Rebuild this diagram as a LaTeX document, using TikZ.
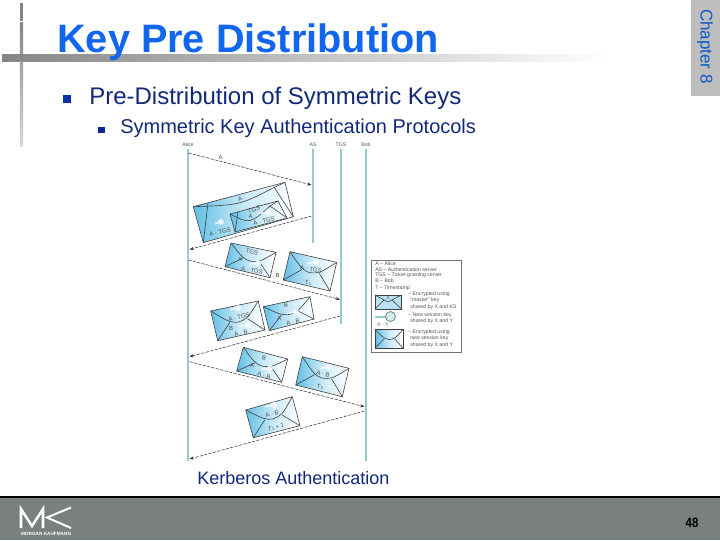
\documentclass[tikz,border=0pt]{standalone}
\usepackage{fontspec}
\setmainfont{Liberation Sans}
\usetikzlibrary{calc,arrows.meta}
\definecolor{titleblue}{HTML}{1166EE}
\definecolor{bodynavy}{HTML}{12297A}
\definecolor{bullblue}{HTML}{0A2FA8}
\definecolor{barcol}{HTML}{858585}
\definecolor{tabgrey}{HTML}{BEBEBE}
\definecolor{footgrey}{HTML}{7A807B}
\definecolor{life}{HTML}{93CBD0}
\definecolor{envblue}{HTML}{62BFE6}
\definecolor{tiny}{HTML}{555555}
\newcommand{\px}[1]{\fontsize{\the\dimexpr#1pt*3/4\relax}{\the\dimexpr#1pt*3/4\relax}\selectfont}
\newcommand{\tee}{\textit{T}\raisebox{-0.5pt}{\px{4.2}1}}
\newcommand{\envbody}[4]{%
  \coordinate (TL) at (#1); \coordinate (TR) at (#2); \coordinate (BR) at (#3); \coordinate (BL) at (#4);
  \path[left color=envblue,right color=white,middle color=envblue!35] (TL) -- (TR) -- (BR) -- (BL) -- cycle;
  \draw[envline] (TL) -- (TR) -- (BR) -- (BL) -- cycle;
}
\newcommand{\envl}[4]{%
  \envbody{#1}{#2}{#3}{#4}
  \coordinate (TM) at ($(TL)!.5!(TR)$); \coordinate (BM) at ($(BL)!.5!(BR)$);
  \coordinate (LM) at ($(TL)!.5!(BL)$); \coordinate (RM) at ($(TR)!.5!(BR)$);
  \coordinate (FL) at ($(LM)!.33!(RM)$); \coordinate (FR) at ($(LM)!.70!(RM)$);
  \coordinate (FC) at ($(TM)!.55!(BM)$);
  \draw[envline] (TL) .. controls (FL) .. (FC) .. controls (FR) .. (TR);
  \draw[envline] (BL) -- (FL);
  \draw[envline] (BR) -- (FR);
}
\newcommand{\keymark}[2]{%
  \fill[white,opacity=.75] (#1) circle (3);
  \draw[white,opacity=.75,line width=1.2] (#1) -- ++(#2,1.5);
}
\tikzset{
  x=0.75pt,y=-0.75pt,
  envline/.style={draw=black!75,line width=0.45pt},
  lifeline/.style={draw=life,line width=1.35pt},
  msg/.style={draw=black!80,line width=0.4pt,dash pattern=on 2.4pt off 1pt,-{Stealth[length=3.2pt,width=2.4pt]}},
  tinylabel/.style={text=tiny,font=\px{5.2},inner sep=0pt},
  envlabel/.style={text=black!70,font=\px{6},inner sep=0pt},
  legtext/.style={text=tiny,font=\px{5.2},inner sep=0pt,anchor=west},
  body/.style={inner sep=0pt,anchor=base west}
}
\begin{document}
\begin{tikzpicture}
\useasboundingbox (0,0) rectangle (720,540);
\fill[white] (0,0) rectangle (720,540);
% decoration bars
\shade[left color=barcol,right color=white] (2,54) rectangle (610,61);
\fill[barcol] (19.8,3) rectangle (23.2,21);
\shade[top color=barcol,bottom color=black!15] (19.8,22) rectangle (23.2,146);
\fill[barcol] (19.8,54) rectangle (23.2,61);
% chapter tab
\fill[tabgrey] (691,0) rectangle (720,96);
\node[rotate=-90,text=titleblue!85!black,font=\px{17},inner sep=0pt] (chap) at (705,46.5) {Chapter 8};
% title
\node[body,text=titleblue,font=\bfseries\px{39.7}] (title) at (57,52) {Key Pre Distribution};
% bullets
\fill[bullblue] (62.5,94.5) rectangle (71,102.5);
\node[body,text=bodynavy,font=\px{24}] (b1) at (89,104) {Pre-Distribution of Symmetric Keys};
\fill[bullblue!85!black] (98,127) rectangle (105,133);
\node[body,text=bodynavy,font=\px{20}] (b2) at (120,133) {Symmetric Key Authentication Protocols};
% lifeline heads
\node[tinylabel] (alice) at (188,144.5) {Alice};
\node[tinylabel] (as) at (313,144.5) {AS};
\node[tinylabel] (tgs) at (341,144.5) {TGS};
\node[tinylabel] (bob) at (366,144.5) {Bob};
\coordinate (aliceEnd) at (188,461);
\coordinate (asEnd) at (313,243);
\coordinate (tgsEnd) at (341,324);
\coordinate (bobEnd) at (366,461);
\draw[lifeline] (188,149) -- (aliceEnd);
\draw[lifeline] (313,149) -- (asEnd);
\draw[lifeline] (341,149) -- (tgsEnd);
\draw[lifeline] (366,149) -- (bobEnd);
% messages
\coordinate (m1a) at (188.5,153); \coordinate (m1b) at (311.5,185);
\coordinate (m2a) at (311.5,216); \coordinate (m2b) at (189.5,249.5);
\coordinate (m3a) at (188.5,260); \coordinate (m3b) at (340,299.5);
\coordinate (m4a) at (340,316); \coordinate (m4b) at (189.5,356.7);
\coordinate (m5a) at (189.5,361.7); \coordinate (m5b) at (364.5,406.7);
\coordinate (m6a) at (364.5,411); \coordinate (m6b) at (189.5,459);
\draw[msg] (m1a) -- (m1b);
\draw[msg] (m2a) -- (m2b);
\draw[msg] (m3a) -- (m3b);
\draw[msg] (m4a) -- (m4b);
\draw[msg] (m5a) -- (m5b);
\draw[msg] (m6a) -- (m6b);
\node[envlabel] (lA) at (220.5,157) {A};
% E1 big
\envbody{193.3,206.7}{285,182.3}{293.3,216.7}{203.3,242.7}
\draw[envline] (TL) .. controls (240,205) .. (273,188) -- (TR);
\draw[envline] (BL) -- (208,203);
\draw[envline] (BR) -- (274,187);
\node[envlabel,rotate=14] (e1a) at (240,199) {A};
\keymark{221,222}{-6}
\node[envlabel,rotate=14] (e1b) at (220,232) {A · TGS};
% E2 inner
\envbody{230,214}{278,201}{287,218}{235,232}
\draw[envline] (TL) .. controls (250,224) .. (270,206) -- (TR);
\draw[envline] (BL) -- (238,212);
\draw[envline] (BR) -- (270,206);
\node[envlabel,rotate=14] (e2a) at (254,209.5) {TGS};
\node[envlabel] (e2b) at (250.5,216) {A};
\keymark{268,212}{-9}
\node[envlabel,rotate=14] (e2c) at (264,221) {A · TGS};
% E3
\envl{231,243}{276,252.3}{270,277.7}{225,266.7}
\node[envlabel,rotate=-12] (e3a) at (252,252) {TGS};
\node[envlabel] (e3b) at (240,259) {A};
\keymark{258,263}{-9}
\node[envlabel,rotate=-12] (e3c) at (252,270.5) {A · TGS};
\node[envlabel] (e3d) at (276,276) {, B};
% E4
\envl{290,251.7}{336.7,262.3}{330,291}{283.3,280}
\keymark{316,262}{-9}
\node[envlabel,rotate=-12] (e4a) at (311,269.5) {A · TGS};
\node[envlabel] (e4b) at (308,283) {\tee};
% E5
\envl{210.7,311}{258.3,301}{265,330}{217.7,340.7}
\keymark{238,308}{-8}
\node[envlabel,rotate=12] (e5a) at (239,317) {A · TGS};
\node[envlabel] (e5b) at (231,328) {B};
\keymark{248,325}{-9}
\node[envlabel,rotate=12] (e5c) at (241,333) {A · B};
% E6
\envl{263.3,306.7}{310,296.7}{314,319}{269.3,330.7}
\node[envlabel,rotate=12] (e6a) at (286,305) {B};
\node[envlabel] (e6b) at (279,318) {A};
\keymark{296,312}{-9}
\node[envlabel,rotate=12] (e6c) at (293,322) {A · B};
% E7
\envl{243.3,347.3}{287.7,359}{281.7,382.3}{236.7,371}
\node[envlabel,rotate=-14] (e7a) at (264,358) {B};
\node[envlabel] (e7b) at (252,365) {A};
\keymark{270,368}{-9}
\node[envlabel,rotate=-14] (e7c) at (264,375.5) {A · B};
% E8
\envl{302.3,356.7}{349,368.3}{342.3,396.7}{295.7,385}
\keymark{329,367}{-9}
\node[envlabel,rotate=-14] (e8a) at (323,374) {A · B};
\node[envlabel] (e8b) at (320,387) {\tee};
% E9
\envl{245.7,410}{292.3,396.7}{300,425.7}{253.3,437.7}
\keymark{274,405}{-9}
\node[envlabel,rotate=14] (e9a) at (272,414) {A · B};
\node[envlabel,rotate=14] (e9b) at (276,427.5) {\tee{} + 1};
% legend
\node[draw=black!55,line width=0.4pt,minimum width=67.5pt,minimum height=68.8pt,inner sep=0pt] (legend) at (416,306) {};
\node[legtext] (l1) at (375,264) {A – Alice};
\node[legtext] (l2) at (375,270) {AS – Authentication server};
\node[legtext] (l3) at (375,275.5) {TGS – Ticket-granting server};
\node[legtext] (l4) at (375,281) {B – Bob};
\node[legtext] (l5) at (375,288) {T – Timestamp};
\path[fill=envblue!45] (375,295) rectangle (401.5,309);
\draw[envline] (375,295) rectangle (401.5,309);
\draw[envline] (375,295) -- (388,302) -- (401.5,295);
\draw[envline] (375,309) -- (384,300);
\draw[envline] (401.5,309) -- (392,300);
\node[envlabel,font=\px{4.5}] (lx) at (388,297.5) {X};
\node[legtext] (l6) at (408,294.5) {– Encrypted using};
\node[legtext] (l7) at (410,300.5) {“master” key};
\node[legtext] (l8) at (410,307) {shared by X and KS};
\fill[life] (375,315.5) rectangle (386,318);
\draw[life!70!black,line width=0.6pt,fill=life!40] (390.5,316.5) circle (5);
\node[tinylabel] (lxy) at (383,325) {X · Y};
\node[legtext] (l9) at (408,315) {– New session key};
\node[legtext] (l10) at (410,321) {shared by X and Y};
\envl{375,329.5}{403,329.5}{403,348}{375,348}
\node[legtext] (l11) at (408,332) {– Encrypted using};
\node[legtext] (l12) at (410,338.5) {new session key};
\node[legtext] (l13) at (410,345) {shared by X and Y};
% caption
\node[body,text=bodynavy,font=\px{18}] (cap) at (197,484) {Kerberos Authentication};
% footer
\fill[footgrey] (0,498) rectangle (720,540);
\fill[black] (0,496) rectangle (720,498);
\draw[white,line width=1.9pt,line join=miter] (21,528) -- (21,509) -- (32,526) -- (43,509) -- (43,528);
\draw[white,line width=1.5pt,line join=miter] (71,507.5) -- (47,517.5) -- (71,528);
\node[text=white,font=\bfseries\px{4.7},inner sep=0pt] (mk) at (46,533.5) {MORGAN KAUFMANN};
\node[text=black,font=\bfseries\px{13.5},inner sep=0pt,xscale=.85] (pg) at (692,522.5) {48};
\end{tikzpicture}
\end{document}
